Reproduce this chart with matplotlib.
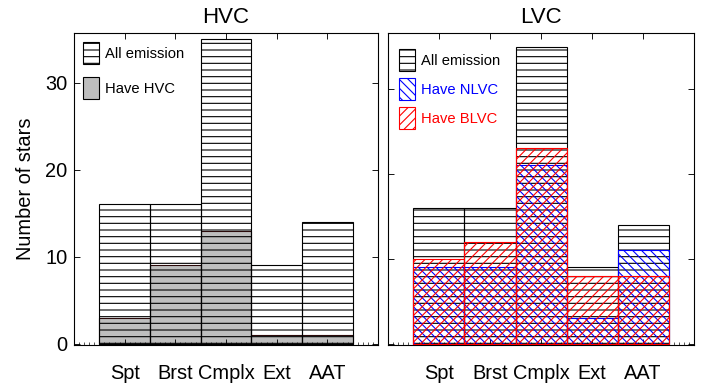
import matplotlib
matplotlib.use("Agg")
from matplotlib import pyplot as plt
from matplotlib.patches import Patch
from matplotlib.ticker import MultipleLocator

categories = ["Spt", "Brst", "Cmplx", "Ext", "AAT"]
hvc_all = [16, 16, 35, 9, 14]
hvc_have = [3, 9, 13, 1, 1]
lvc_all = [16, 16, 35, 9, 14]
lvc_nlvc = [9, 9, 21, 3, 11]
lvc_blvc = [10, 12, 23, 8, 8]

plt.rcParams["font.family"] = ["Liberation Sans", "DejaVu Sans"]
plt.rcParams["hatch.linewidth"] = 1.0

dpi = 80
fig = plt.figure(figsize=(711 / dpi, 389 / dpi), dpi=dpi)
ax1 = fig.add_axes([74 / 711, 44 / 389, 304 / 711, 312 / 389])
ax2 = fig.add_axes([388 / 711, 44 / 389, 306 / 711, 312 / 389])

x = list(range(1, len(categories) + 1))

# HVC panel
ax1.bar(x, hvc_have, width=1.0, color="#bebebe", edgecolor="#2a0a0a", linewidth=1, zorder=1)
ax1.bar(x, hvc_all, width=1.0, facecolor="none", edgecolor="k", hatch="--", linewidth=1, zorder=2)
ax1.set_ylim(-0.15, 35.7)
ax1.set_title("HVC", fontsize=20, pad=9)
ax1.set_ylabel("Number of stars", fontsize=18, labelpad=9)
h1 = [Patch(facecolor="white", edgecolor="k", hatch="--", label="All emission"),
      Patch(facecolor="#bebebe", edgecolor="k", label="Have HVC")]
ax1.legend(handles=h1, loc="upper left", bbox_to_anchor=(0.03, 0.971), frameon=False,
           fontsize=13.3, handlelength=1.08, handleheight=1.9, labelspacing=0.88,
           handletextpad=0.4, borderpad=0, borderaxespad=0)

# LVC panel
ax2.bar(x, lvc_all, width=1.0, facecolor="none", edgecolor="k", hatch="--", linewidth=1, zorder=1)
ax2.bar(x, lvc_nlvc, width=1.0, facecolor="none", edgecolor="#0000ff", hatch="\\\\\\", linewidth=1, zorder=2)
ax2.bar(x, lvc_blvc, width=1.0, facecolor="none", edgecolor="#ff0000", hatch="///", linewidth=1, zorder=3)
ax2.set_ylim(-0.15, 36.6)
ax2.set_title("LVC", fontsize=20, pad=9)
h2 = [Patch(facecolor="white", edgecolor="k", hatch="--", label="All emission"),
      Patch(facecolor="white", edgecolor="#0000ff", hatch="\\\\\\", label="Have NLVC"),
      Patch(facecolor="white", edgecolor="#ff0000", hatch="///", label="Have BLVC")]
leg2 = ax2.legend(handles=h2, loc="upper left", bbox_to_anchor=(0.036, 0.949), frameon=False,
                  fontsize=13.3, handlelength=1.08, handleheight=1.9, labelspacing=0.5,
                  handletextpad=0.4, borderpad=0, borderaxespad=0)
for txt, c in zip(leg2.get_texts(), ["k", "#0000ff", "#ff0000"]):
    txt.set_color(c)

for ax in (ax1, ax2):
    ax.set_xlim(0, 6)
    ax.set_xticks(x)
    ax.set_xticklabels(categories)
    ax.set_yticks([0, 10, 20, 30])
    ax.xaxis.set_minor_locator(MultipleLocator(0.1))
    ax.tick_params(which="major", direction="in", top=True, right=True, length=5,
                   labelsize=18, pad=6)
    ax.tick_params(axis="x", which="major", pad=17)
    ax.tick_params(axis="x", which="minor", direction="in", top=False, bottom=True, length=3)
    ax.tick_params(axis="y", which="minor", left=False, right=False)
    for s in ax.spines.values():
        s.set_linewidth(1)

ax2.tick_params(axis="y", labelleft=False)

plt.savefig("out.png", dpi=dpi)
